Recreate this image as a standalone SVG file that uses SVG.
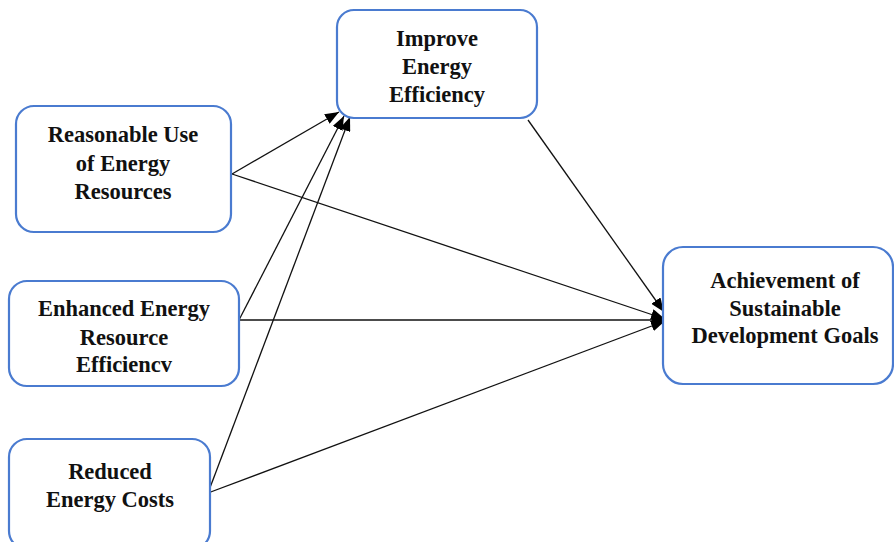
<svg xmlns="http://www.w3.org/2000/svg" width="894" height="542" viewBox="0 0 894 542">
<style>
.box{fill:#fff;stroke:#4A7BD0;stroke-width:2.2}
.t{font-family:"Liberation Serif","Times New Roman",serif;font-weight:bold;font-size:22.5px;fill:#111;text-anchor:middle}
.c{stroke:#111;stroke-width:1.3;fill:none;marker-end:url(#ah)}
</style>
<defs>
<marker id="ah" markerUnits="userSpaceOnUse" markerWidth="15" markerHeight="11" refX="14" refY="5.5" orient="auto">
<path d="M0,0 L14,5.5 L0,11 z" fill="#000"/>
</marker>
</defs>
<rect width="894" height="542" fill="#fff"/>
<g id="connectors">
<line class="c" x1="232" y1="174" x2="339" y2="112"/>
<line class="c" x1="239" y1="320" x2="344" y2="116"/>
<line class="c" x1="208" y1="493" x2="350" y2="117"/>
<line class="c" x1="232" y1="174" x2="665" y2="319"/>
<line class="c" x1="239" y1="320" x2="666" y2="320"/>
<line class="c" x1="208" y1="493" x2="665" y2="321"/>
<line class="c" x1="528" y1="120" x2="664" y2="312"/>
</g>
<g id="improve">
<rect class="box" x="337" y="10" width="200" height="108" rx="17"/>
<text class="t" x="437" y="46">Improve</text>
<text class="t" x="437" y="74">Energy</text>
<text class="t" x="437" y="102">Efficiency</text>
</g>
<g id="reasonable">
<rect class="box" x="16" y="106" width="215" height="126" rx="18"/>
<text class="t" x="123" y="142">Reasonable Use</text>
<text class="t" x="123" y="171">of Energy</text>
<text class="t" x="123" y="199">Resources</text>
</g>
<g id="enhanced">
<rect class="box" x="9" y="281" width="230" height="105" rx="18"/>
<text class="t" x="124" y="316">Enhanced Energy</text>
<text class="t" x="124" y="345">Resource</text>
<text class="t" x="124" y="372">Efficiencv</text>
</g>
<g id="reduced">
<rect class="box" x="9" y="439" width="201" height="110" rx="18"/>
<text class="t" x="110" y="479">Reduced</text>
<text class="t" x="110" y="507">Energy Costs</text>
</g>
<g id="achievement">
<rect class="box" x="663" y="247" width="230" height="137" rx="20"/>
<text class="t" x="785" y="288">Achievement of</text>
<text class="t" x="785" y="316">Sustainable</text>
<text class="t" x="785" y="343">Development Goals</text>
</g>
</svg>
